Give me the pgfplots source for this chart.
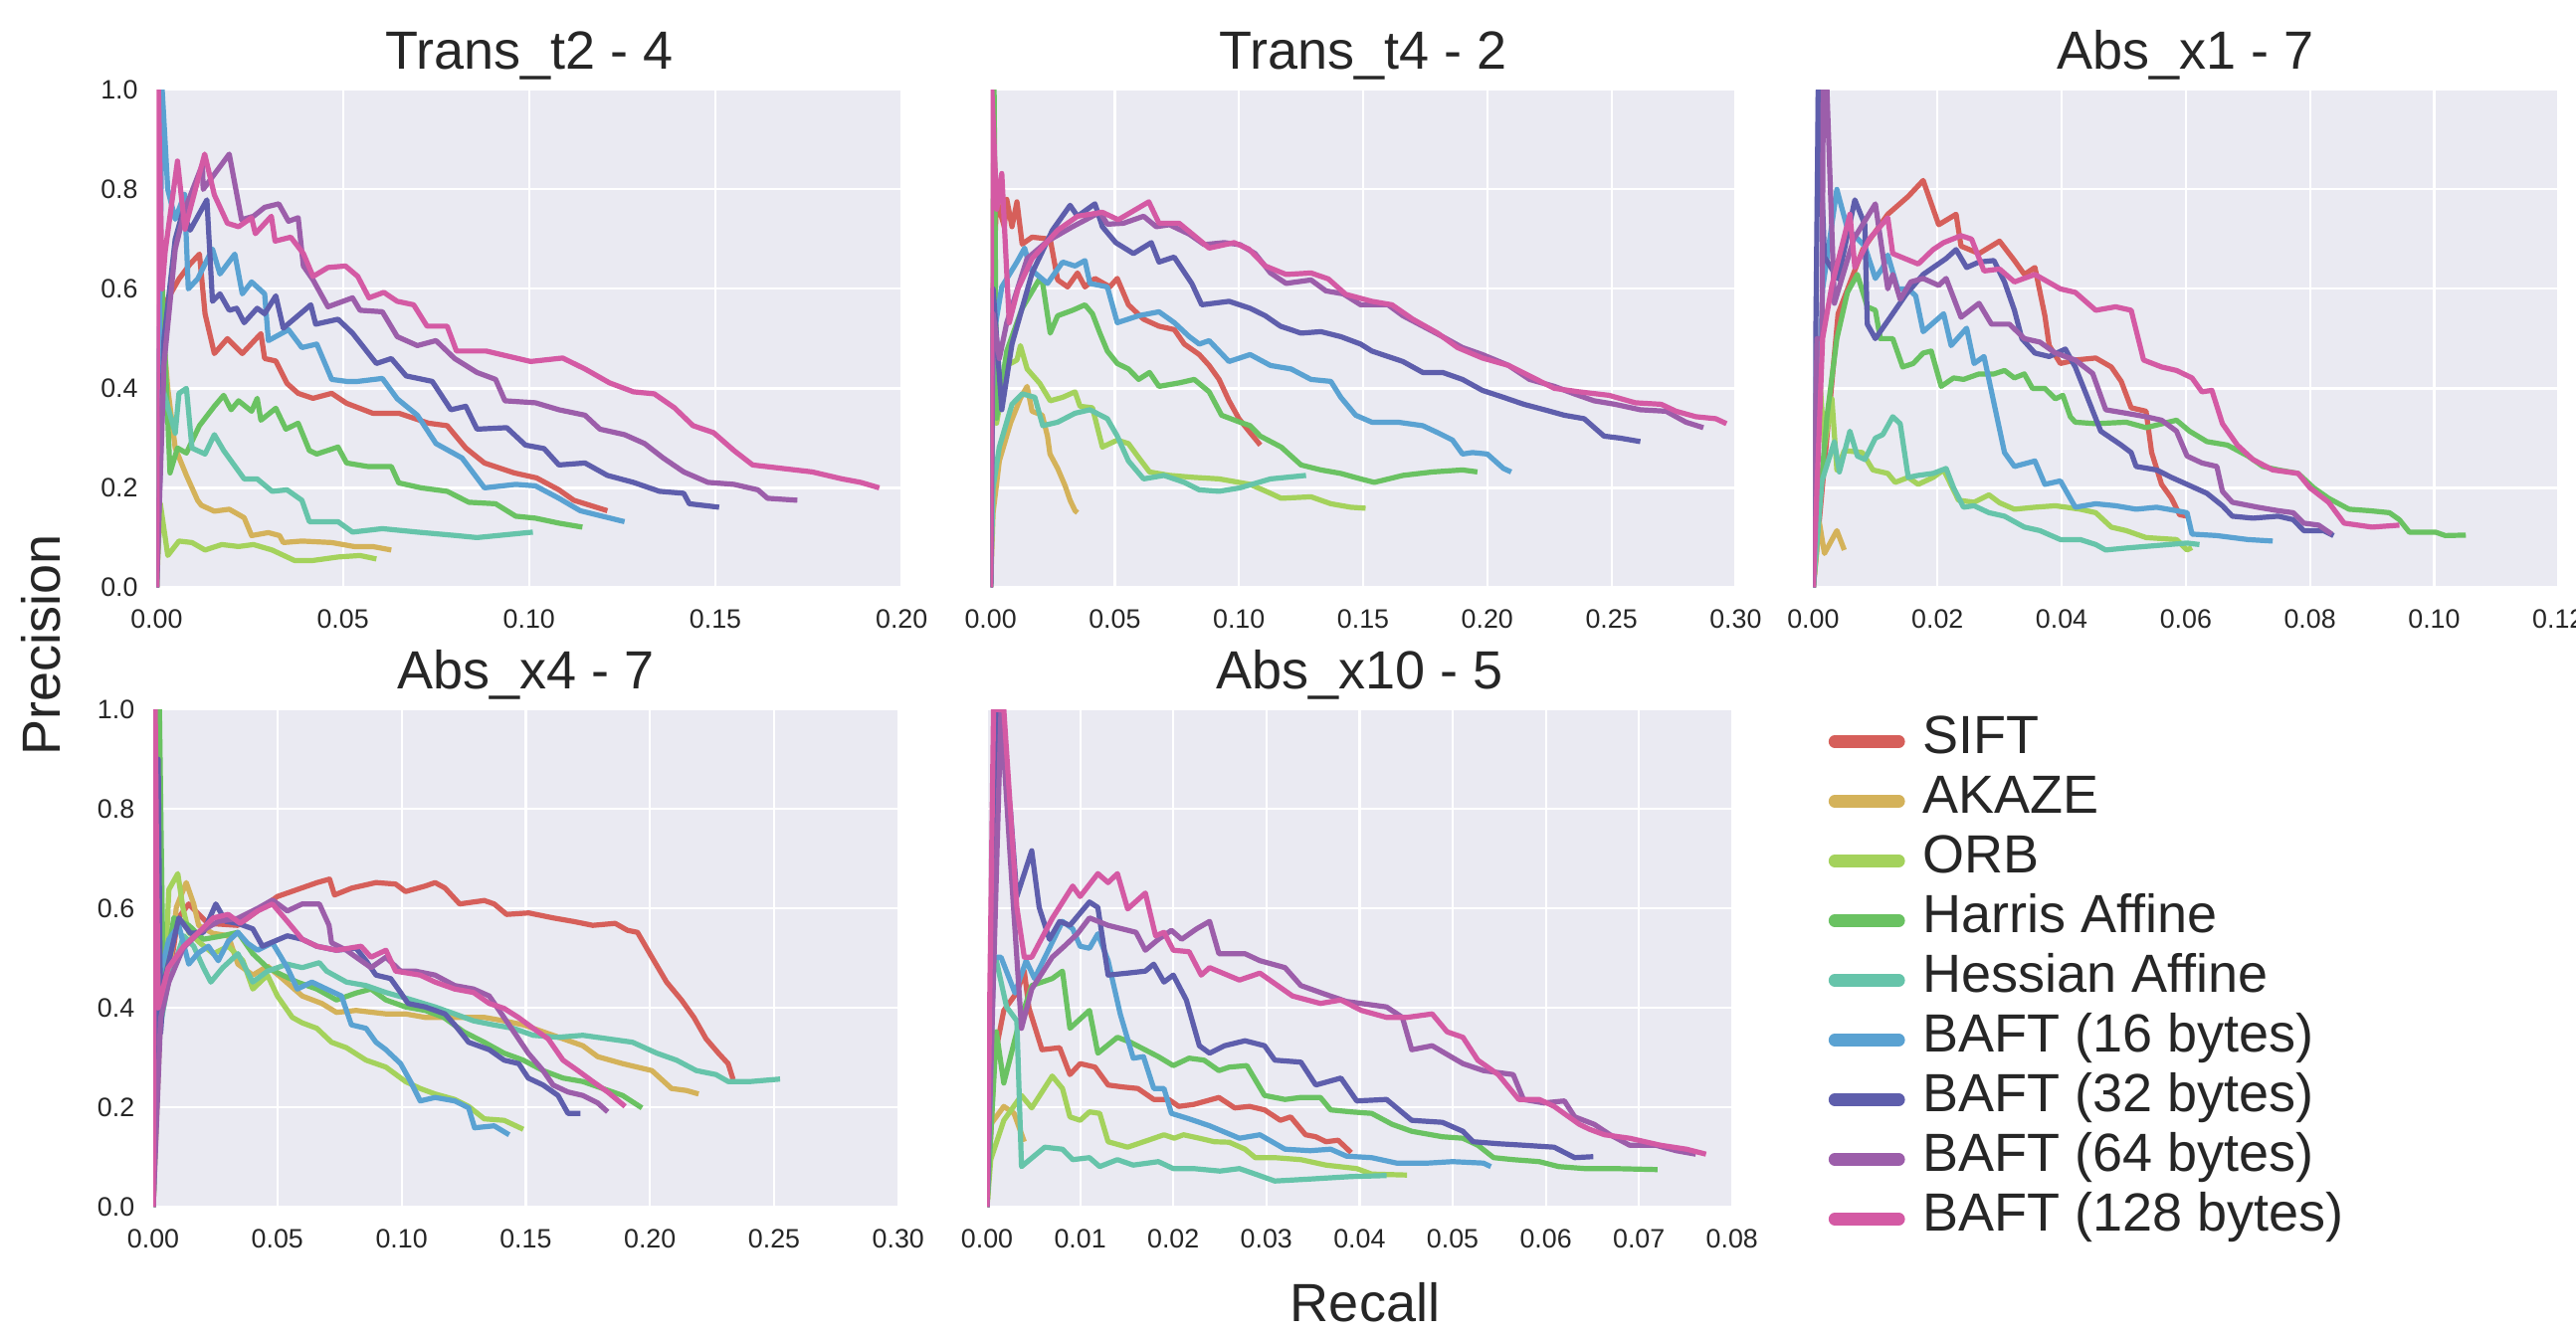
\documentclass[border=0pt]{standalone}
\usepackage{fontspec}
\setmainfont{Liberation Sans}
\usepackage{pgfplots}
\pgfplotsset{compat=1.18}
\definecolor{bgc}{RGB}{234,234,242}
\definecolor{tgray}{RGB}{38,38,38}
\definecolor{cSIFT}{RGB}{214,95,90}
\definecolor{cAKAZE}{RGB}{212,178,90}
\definecolor{cORB}{RGB}{164,210,92}
\definecolor{cHarris}{RGB}{106,194,98}
\definecolor{cHessian}{RGB}{102,196,170}
\definecolor{cBa}{RGB}{90,162,210}
\definecolor{cBb}{RGB}{94,94,172}
\definecolor{cBc}{RGB}{156,94,170}
\definecolor{cBd}{RGB}{212,90,164}
\newcommand{\ticksize}{\fontsize{6.7}{8}\selectfont}
\newcommand{\bigsize}{\fontsize{13.5}{15}\selectfont}
\pgfplotsset{
  pr/.style={
    width=187.2pt, height=125pt, scale only axis, anchor=south west,
    xmin=0, ymin=0, ymax=1,
    axis background/.style={fill=bgc},
    axis line style={draw=none},
    major tick length=0pt,
    grid=major, grid style={white, line width=0.55pt},
    ytick={0,0.2,0.4,0.6,0.8,1.0},
    scaled x ticks=false, scaled y ticks=false,
    tick label style={font=\ticksize, text=tgray, /pgf/number format/assume math mode=true},
    xticklabel style={anchor=north, inner sep=0pt, yshift=-5.5pt, /pgf/number format/.cd, fixed, fixed zerofill, precision=2},
    yticklabel style={anchor=east, inner sep=0pt, xshift=-4.5pt, /pgf/number format/.cd, fixed, fixed zerofill, precision=1},
    title style={font=\bigsize, text=tgray, at={(0.5,1)}, anchor=base, yshift=-0.7pt},
    every axis plot/.append style={line width=1.3pt, line join=round},
  }
}
\begin{document}
\begin{tikzpicture}
\useasboundingbox (0pt,0pt) rectangle (647.25pt,335.5pt);
% ---------------- Plot 1
\begin{axis}[pr, at={(39.35pt,187.9pt)}, xmax=0.2, xtick={0,0.05,0.1,0.15,0.2}, title={Trans\_t2 - 4}]
\addplot[cSIFT] coordinates {(0,0)(0.001,0.45)(0.003,0.58)(0.006,0.62)(0.009,0.65)(0.0115,0.67)(0.013,0.55)(0.0155,0.47)(0.019,0.50)(0.023,0.47)(0.028,0.51)(0.029,0.46)(0.032,0.455)(0.035,0.41)(0.038,0.39)(0.042,0.38)(0.047,0.39)(0.051,0.37)(0.058,0.35)(0.065,0.35)(0.073,0.33)(0.078,0.325)(0.083,0.28)(0.088,0.25)(0.096,0.23)(0.102,0.22)(0.108,0.196)(0.112,0.175)(0.121,0.154)};
\addplot[cAKAZE] coordinates {(0,0)(0.001,0.3)(0.002,0.49)(0.003,0.40)(0.005,0.28)(0.008,0.225)(0.011,0.175)(0.012,0.165)(0.0155,0.153)(0.0195,0.157)(0.0235,0.14)(0.0255,0.104)(0.030,0.11)(0.033,0.104)(0.034,0.09)(0.039,0.093)(0.047,0.09)(0.053,0.082)(0.058,0.082)(0.063,0.075)};
\addplot[cORB] coordinates {(0,0)(0.001,0.168)(0.003,0.064)(0.006,0.093)(0.0095,0.09)(0.013,0.075)(0.0175,0.086)(0.022,0.082)(0.026,0.086)(0.031,0.075)(0.037,0.054)(0.042,0.054)(0.0487,0.061)(0.0546,0.064)(0.059,0.057)};
\addplot[cHarris] coordinates {(0,0)(0.0012,0.66)(0.0036,0.23)(0.0056,0.28)(0.008,0.27)(0.0115,0.325)(0.0155,0.364)(0.018,0.386)(0.020,0.357)(0.022,0.375)(0.0255,0.354)(0.027,0.38)(0.028,0.336)(0.032,0.36)(0.0347,0.318)(0.038,0.33)(0.041,0.275)(0.043,0.268)(0.0487,0.282)(0.051,0.25)(0.0566,0.243)(0.063,0.243)(0.065,0.21)(0.071,0.2)(0.078,0.193)(0.0838,0.171)(0.091,0.168)(0.0964,0.143)(0.1017,0.139)(0.108,0.129)(0.1143,0.121)};
\addplot[cHessian] coordinates {(0,0)(0.001,0.3)(0.002,0.39)(0.005,0.31)(0.006,0.39)(0.008,0.40)(0.0095,0.28)(0.013,0.268)(0.0155,0.307)(0.018,0.275)(0.0235,0.218)(0.027,0.218)(0.031,0.193)(0.035,0.196)(0.039,0.175)(0.041,0.132)(0.0487,0.132)(0.0526,0.111)(0.0606,0.118)(0.07,0.111)(0.0805,0.104)(0.086,0.1)(0.101,0.111)};
\addplot[cBa] coordinates {(0,0)(0.0015,1.0)(0.003,0.8)(0.005,0.74)(0.0075,0.79)(0.0085,0.6)(0.011,0.62)(0.015,0.68)(0.017,0.63)(0.021,0.67)(0.023,0.59)(0.0255,0.614)(0.029,0.59)(0.030,0.496)(0.0354,0.518)(0.039,0.482)(0.043,0.489)(0.047,0.418)(0.051,0.414)(0.054,0.414)(0.0606,0.42)(0.0646,0.379)(0.07,0.346)(0.075,0.289)(0.082,0.26)(0.088,0.2)(0.0964,0.207)(0.1017,0.204)(0.108,0.179)(0.1137,0.154)(0.118,0.146)(0.1256,0.132)};
\addplot[cBb] coordinates {(0,0)(0.002,0.5)(0.005,0.70)(0.007,0.754)(0.009,0.718)(0.0135,0.779)(0.015,0.575)(0.017,0.59)(0.0195,0.557)(0.0215,0.561)(0.0235,0.532)(0.027,0.561)(0.029,0.55)(0.032,0.586)(0.034,0.521)(0.0414,0.568)(0.0427,0.529)(0.0487,0.539)(0.0526,0.511)(0.059,0.45)(0.063,0.46)(0.067,0.425)(0.074,0.414)(0.079,0.357)(0.083,0.364)(0.086,0.318)(0.094,0.321)(0.099,0.286)(0.104,0.279)(0.108,0.246)(0.115,0.25)(0.121,0.225)(0.128,0.211)(0.135,0.193)(0.1415,0.189)(0.143,0.168)(0.151,0.161)};
\addplot[cBc] coordinates {(0,0)(0.002,0.45)(0.005,0.68)(0.0076,0.76)(0.0123,0.85)(0.0125,0.8)(0.0195,0.871)(0.0228,0.739)(0.026,0.746)(0.029,0.764)(0.0328,0.771)(0.0354,0.736)(0.038,0.743)(0.0394,0.646)(0.042,0.618)(0.046,0.564)(0.0526,0.582)(0.0546,0.557)(0.0606,0.554)(0.0646,0.504)(0.07,0.486)(0.075,0.496)(0.080,0.46)(0.086,0.432)(0.091,0.418)(0.0935,0.375)(0.1017,0.371)(0.108,0.357)(0.115,0.346)(0.119,0.318)(0.1256,0.307)(0.131,0.289)(0.136,0.26)(0.1415,0.232)(0.148,0.211)(0.155,0.207)(0.1614,0.196)(0.164,0.179)(0.172,0.175)};
\addplot[cBd] coordinates {(0,0)(0.0005,1.0)(0.0015,0.6)(0.0023,0.675)(0.0056,0.857)(0.0076,0.72)(0.0129,0.871)(0.0155,0.789)(0.019,0.732)(0.022,0.725)(0.0255,0.743)(0.0265,0.711)(0.0308,0.746)(0.0318,0.696)(0.036,0.704)(0.0394,0.671)(0.042,0.625)(0.046,0.643)(0.0507,0.646)(0.054,0.625)(0.057,0.582)(0.061,0.593)(0.0646,0.575)(0.069,0.568)(0.0726,0.525)(0.078,0.525)(0.0805,0.475)(0.0885,0.475)(0.1004,0.454)(0.109,0.461)(0.115,0.439)(0.1216,0.411)(0.128,0.393)(0.1336,0.389)(0.139,0.361)(0.144,0.325)(0.1495,0.311)(0.155,0.275)(0.160,0.246)(0.168,0.239)(0.176,0.232)(0.184,0.218)(0.189,0.211)(0.194,0.2)};
\end{axis}
% ---------------- Plot 2
\begin{axis}[pr, at={(248.9pt,187.9pt)}, xmax=0.3, xtick={0,0.05,0.1,0.15,0.2,0.25,0.3}, yticklabels={}, title={Trans\_t4 - 2}]
\addplot[cSIFT] coordinates {(0,0)(0.001,0.6)(0.0024,0.78)(0.0055,0.725)(0.0065,0.78)(0.0086,0.725)(0.0106,0.775)(0.0127,0.69)(0.0167,0.704)(0.024,0.70)(0.027,0.618)(0.031,0.604)(0.035,0.632)(0.038,0.604)(0.042,0.621)(0.048,0.604)(0.051,0.621)(0.0555,0.568)(0.0616,0.539)(0.0678,0.525)(0.074,0.518)(0.078,0.489)(0.084,0.468)(0.088,0.446)(0.092,0.418)(0.096,0.375)(0.100,0.339)(0.1045,0.311)(0.1086,0.286)};
\addplot[cAKAZE] coordinates {(0,0)(0.001,0.15)(0.0035,0.254)(0.008,0.33)(0.012,0.38)(0.0147,0.404)(0.0167,0.354)(0.0208,0.346)(0.0229,0.304)(0.0239,0.268)(0.027,0.239)(0.030,0.204)(0.032,0.175)(0.034,0.154)(0.035,0.15)};
\addplot[cORB] coordinates {(0,0)(0.001,0.45)(0.0024,0.33)(0.0065,0.446)(0.0106,0.457)(0.012,0.486)(0.0147,0.439)(0.0198,0.41)(0.024,0.375)(0.029,0.382)(0.034,0.393)(0.036,0.364)(0.041,0.361)(0.045,0.282)(0.051,0.296)(0.0555,0.289)(0.0596,0.261)(0.064,0.232)(0.072,0.225)(0.082,0.221)(0.092,0.218)(0.1045,0.207)(0.1127,0.189)(0.117,0.179)(0.129,0.182)(0.137,0.168)(0.145,0.161)(0.151,0.159)};
\addplot[cHarris] coordinates {(0,0)(0.0014,1.0)(0.0024,0.34)(0.0065,0.475)(0.0127,0.561)(0.0198,0.621)(0.021,0.61)(0.024,0.511)(0.027,0.546)(0.033,0.557)(0.038,0.568)(0.041,0.55)(0.044,0.511)(0.047,0.475)(0.051,0.45)(0.0555,0.439)(0.0596,0.418)(0.064,0.432)(0.0678,0.404)(0.0759,0.411)(0.082,0.418)(0.088,0.393)(0.093,0.346)(0.1004,0.332)(0.1045,0.325)(0.1086,0.304)(0.117,0.282)(0.125,0.246)(0.133,0.236)(0.141,0.229)(0.149,0.218)(0.1545,0.211)(0.166,0.225)(0.178,0.232)(0.190,0.236)(0.196,0.232)};
\addplot[cHessian] coordinates {(0,0)(0.001,0.2)(0.0035,0.282)(0.0086,0.368)(0.0127,0.389)(0.0178,0.382)(0.021,0.325)(0.027,0.332)(0.034,0.35)(0.040,0.357)(0.047,0.339)(0.051,0.304)(0.0555,0.254)(0.0616,0.218)(0.0698,0.225)(0.078,0.211)(0.084,0.196)(0.092,0.193)(0.1004,0.2)(0.1127,0.218)(0.127,0.225)};
\addplot[cBa] coordinates {(0,0)(0.001,0.5)(0.0045,0.604)(0.0106,0.654)(0.0137,0.682)(0.016,0.64)(0.0229,0.611)(0.029,0.654)(0.034,0.646)(0.038,0.657)(0.040,0.611)(0.047,0.604)(0.051,0.532)(0.0596,0.546)(0.0678,0.554)(0.074,0.532)(0.080,0.504)(0.084,0.489)(0.088,0.496)(0.096,0.454)(0.1045,0.468)(0.1127,0.446)(0.121,0.439)(0.129,0.418)(0.137,0.414)(0.141,0.382)(0.147,0.346)(0.1535,0.332)(0.164,0.332)(0.174,0.325)(0.18,0.311)(0.186,0.296)(0.19,0.268)(0.194,0.271)(0.2,0.268)(0.2065,0.239)(0.2096,0.232)};
\addplot[cBb] coordinates {(0,0)(0.001,0.6)(0.0045,0.357)(0.0086,0.489)(0.0167,0.632)(0.0249,0.718)(0.032,0.768)(0.035,0.746)(0.042,0.771)(0.045,0.725)(0.0504,0.693)(0.0575,0.671)(0.0647,0.693)(0.0678,0.654)(0.0739,0.664)(0.081,0.611)(0.085,0.568)(0.096,0.575)(0.1045,0.561)(0.1106,0.546)(0.1167,0.525)(0.125,0.511)(0.133,0.514)(0.141,0.504)(0.149,0.489)(0.1535,0.475)(0.166,0.454)(0.174,0.432)(0.182,0.432)(0.19,0.418)(0.198,0.396)(0.2065,0.382)(0.2147,0.368)(0.223,0.357)(0.231,0.346)(0.239,0.339)(0.247,0.304)(0.2535,0.3)(0.2616,0.293)};
\addplot[cBc] coordinates {(0,0)(0.001,0.55)(0.0035,0.46)(0.0065,0.532)(0.0147,0.661)(0.0229,0.696)(0.033,0.725)(0.044,0.754)(0.047,0.73)(0.0535,0.732)(0.0616,0.746)(0.0667,0.725)(0.072,0.729)(0.08,0.71)(0.086,0.689)(0.094,0.693)(0.1004,0.689)(0.1065,0.671)(0.1127,0.632)(0.119,0.611)(0.129,0.618)(0.135,0.596)(0.142,0.59)(0.149,0.568)(0.16,0.568)(0.166,0.546)(0.174,0.525)(0.182,0.504)(0.19,0.482)(0.198,0.468)(0.2086,0.446)(0.217,0.418)(0.227,0.404)(0.235,0.389)(0.243,0.375)(0.2514,0.368)(0.2616,0.357)(0.272,0.354)(0.28,0.332)(0.287,0.321)};
\addplot[cBd] coordinates {(0,0)(0.0005,1.0)(0.0025,0.76)(0.0045,0.832)(0.0075,0.532)(0.011,0.6)(0.0167,0.661)(0.027,0.718)(0.035,0.746)(0.045,0.754)(0.0514,0.739)(0.0637,0.775)(0.0678,0.732)(0.0759,0.732)(0.082,0.707)(0.088,0.682)(0.098,0.693)(0.104,0.68)(0.1106,0.646)(0.119,0.629)(0.129,0.632)(0.136,0.62)(0.143,0.589)(0.1535,0.575)(0.1616,0.568)(0.17,0.539)(0.18,0.511)(0.188,0.482)(0.198,0.461)(0.2086,0.446)(0.217,0.425)(0.227,0.4)(0.237,0.393)(0.249,0.386)(0.2596,0.371)(0.27,0.368)(0.276,0.354)(0.284,0.343)(0.292,0.339)(0.2963,0.329)};
\end{axis}
% ---------------- Plot 3
\begin{axis}[pr, at={(455.6pt,187.9pt)}, xmax=0.12, xtick={0,0.02,0.04,0.06,0.08,0.1,0.12}, yticklabels={}, title={Abs\_x1 - 7}]
\addplot[cSIFT] coordinates {(0,0)(0.004,0.55)(0.008,0.68)(0.012,0.75)(0.0153,0.786)(0.0177,0.818)(0.0202,0.729)(0.023,0.75)(0.0238,0.686)(0.0267,0.671)(0.030,0.696)(0.0324,0.657)(0.034,0.629)(0.0357,0.643)(0.0373,0.546)(0.038,0.486)(0.0398,0.45)(0.0422,0.457)(0.0455,0.461)(0.048,0.443)(0.0496,0.414)(0.0512,0.361)(0.0536,0.354)(0.0545,0.271)(0.0561,0.207)(0.0577,0.179)(0.059,0.146)(0.0602,0.143)};
\addplot[cAKAZE] coordinates {(0,0)(0.001,0.129)(0.0018,0.068)(0.0038,0.114)(0.005,0.075)};
\addplot[cORB] coordinates {(0,0)(0.0006,0.5)(0.0018,0.282)(0.003,0.379)(0.0038,0.236)(0.005,0.275)(0.0079,0.271)(0.0096,0.236)(0.012,0.229)(0.0132,0.211)(0.0153,0.221)(0.0169,0.207)(0.0193,0.221)(0.021,0.236)(0.0234,0.175)(0.0259,0.171)(0.0283,0.186)(0.030,0.17)(0.0324,0.157)(0.0357,0.161)(0.039,0.164)(0.043,0.157)(0.0455,0.15)(0.048,0.121)(0.0504,0.114)(0.0536,0.1)(0.0585,0.096)(0.0602,0.075)(0.061,0.08)};
\addplot[cHarris] coordinates {(0,0)(0.001,0.164)(0.0022,0.343)(0.0038,0.5)(0.0055,0.593)(0.0071,0.629)(0.0087,0.564)(0.01,0.557)(0.0108,0.5)(0.0128,0.5)(0.0144,0.443)(0.0161,0.45)(0.0177,0.471)(0.019,0.475)(0.0206,0.404)(0.0226,0.421)(0.0242,0.418)(0.0267,0.429)(0.0291,0.429)(0.0308,0.436)(0.0324,0.421)(0.034,0.429)(0.0353,0.4)(0.0373,0.4)(0.039,0.379)(0.0402,0.386)(0.0414,0.343)(0.0422,0.332)(0.0455,0.329)(0.0504,0.332)(0.0536,0.321)(0.0585,0.336)(0.0606,0.314)(0.0634,0.293)(0.0667,0.286)(0.07,0.264)(0.0724,0.243)(0.0749,0.236)(0.0781,0.229)(0.0806,0.2)(0.083,0.179)(0.0863,0.157)(0.0896,0.154)(0.0928,0.15)(0.0944,0.136)(0.096,0.111)(0.1002,0.111)(0.1018,0.104)(0.1051,0.105)};
\addplot[cHessian] coordinates {(0,0)(0.0014,0.214)(0.0034,0.293)(0.0042,0.232)(0.0059,0.314)(0.0071,0.264)(0.0083,0.257)(0.01,0.3)(0.0112,0.307)(0.0128,0.343)(0.014,0.329)(0.0153,0.221)(0.0169,0.225)(0.0193,0.229)(0.0214,0.239)(0.0226,0.2)(0.0242,0.161)(0.0259,0.164)(0.0283,0.15)(0.0308,0.143)(0.034,0.121)(0.0365,0.114)(0.0398,0.096)(0.043,0.096)(0.0455,0.086)(0.0471,0.075)(0.0504,0.079)(0.0553,0.084)(0.0602,0.089)(0.0622,0.086)};
\addplot[cBa] coordinates {(0,0)(0.0015,0.6)(0.0038,0.8)(0.0055,0.721)(0.0083,0.686)(0.01,0.621)(0.0112,0.643)(0.012,0.668)(0.0136,0.6)(0.0153,0.6)(0.0165,0.586)(0.0177,0.514)(0.021,0.55)(0.0222,0.486)(0.0247,0.521)(0.0259,0.45)(0.0275,0.464)(0.0308,0.271)(0.0324,0.243)(0.0357,0.254)(0.0373,0.207)(0.0398,0.214)(0.0422,0.161)(0.0455,0.168)(0.0487,0.164)(0.052,0.157)(0.0553,0.161)(0.0585,0.154)(0.0602,0.15)(0.061,0.107)(0.065,0.104)(0.07,0.096)(0.074,0.093)};
\addplot[cBb] coordinates {(0,0)(0.0008,1.0)(0.0018,0.664)(0.004,0.62)(0.0067,0.779)(0.0083,0.729)(0.0087,0.529)(0.01,0.5)(0.0124,0.543)(0.015,0.59)(0.0177,0.629)(0.0214,0.661)(0.023,0.679)(0.0247,0.643)(0.0267,0.654)(0.0291,0.657)(0.0308,0.614)(0.0324,0.557)(0.0336,0.5)(0.0357,0.471)(0.038,0.464)(0.0406,0.479)(0.0422,0.443)(0.0438,0.393)(0.0463,0.314)(0.0496,0.286)(0.0512,0.271)(0.052,0.243)(0.0553,0.236)(0.0577,0.221)(0.0602,0.207)(0.0634,0.189)(0.0659,0.164)(0.0675,0.143)(0.0708,0.139)(0.0749,0.143)(0.0773,0.136)(0.079,0.114)(0.0822,0.114)(0.0838,0.104)};
\addplot[cBc] coordinates {(0,0)(0.0006,0.5)(0.0014,0.5)(0.0016,1.0)(0.0022,1.0)(0.0034,0.571)(0.0065,0.7)(0.01,0.771)(0.012,0.6)(0.0128,0.629)(0.014,0.579)(0.0157,0.614)(0.0177,0.621)(0.0202,0.607)(0.0214,0.621)(0.0238,0.543)(0.0267,0.571)(0.0287,0.529)(0.0316,0.529)(0.034,0.5)(0.0365,0.493)(0.039,0.471)(0.0422,0.457)(0.045,0.43)(0.0471,0.357)(0.0504,0.35)(0.0536,0.343)(0.0561,0.336)(0.0585,0.314)(0.0602,0.264)(0.0626,0.25)(0.065,0.243)(0.0659,0.193)(0.0675,0.171)(0.0716,0.161)(0.0749,0.154)(0.0773,0.15)(0.079,0.129)(0.0814,0.125)(0.0835,0.107)};
\addplot[cBd] coordinates {(0,0)(0.0015,0.5)(0.003,0.607)(0.0059,0.75)(0.0067,0.643)(0.009,0.7)(0.012,0.743)(0.0128,0.671)(0.0169,0.65)(0.0193,0.679)(0.021,0.693)(0.0238,0.707)(0.0255,0.7)(0.0275,0.636)(0.030,0.64)(0.0324,0.614)(0.0357,0.629)(0.0398,0.6)(0.0422,0.593)(0.0455,0.557)(0.0487,0.564)(0.0512,0.557)(0.0532,0.457)(0.0561,0.443)(0.0585,0.436)(0.061,0.421)(0.0626,0.393)(0.0642,0.396)(0.0659,0.329)(0.0683,0.286)(0.0708,0.257)(0.074,0.236)(0.0781,0.229)(0.080,0.2)(0.083,0.171)(0.0855,0.129)(0.09,0.121)(0.0944,0.125)};
\end{axis}
% ---------------- Plot 4
\begin{axis}[pr, at={(38.5pt,32.2pt)}, xmax=0.3, xtick={0,0.05,0.1,0.15,0.2,0.25,0.3}, title={Abs\_x4 - 7}]
\addplot[cSIFT] coordinates {(0,0)(0.002,0.35)(0.006,0.45)(0.010,0.58)(0.0143,0.609)(0.017,0.595)(0.022,0.57)(0.034,0.566)(0.042,0.595)(0.05,0.624)(0.058,0.638)(0.066,0.652)(0.071,0.659)(0.073,0.627)(0.08,0.641)(0.0897,0.652)(0.0976,0.649)(0.1016,0.634)(0.1095,0.645)(0.1135,0.652)(0.1175,0.641)(0.1234,0.609)(0.1333,0.616)(0.1373,0.609)(0.1423,0.588)(0.1512,0.591)(0.161,0.581)(0.169,0.574)(0.177,0.566)(0.186,0.57)(0.191,0.556)(0.195,0.552)(0.2008,0.502)(0.2067,0.452)(0.2127,0.416)(0.2177,0.381)(0.2226,0.338)(0.2276,0.309)(0.2315,0.288)(0.2335,0.256)};
\addplot[cAKAZE] coordinates {(0,0)(0.003,0.4)(0.0063,0.459)(0.0093,0.602)(0.0133,0.652)(0.0163,0.609)(0.0183,0.566)(0.024,0.55)(0.0302,0.545)(0.0341,0.488)(0.0401,0.466)(0.046,0.484)(0.052,0.459)(0.06,0.424)(0.0679,0.409)(0.0738,0.391)(0.0817,0.395)(0.0937,0.388)(0.1016,0.388)(0.1095,0.381)(0.1214,0.381)(0.1333,0.381)(0.1413,0.374)(0.149,0.366)(0.157,0.352)(0.165,0.338)(0.173,0.324)(0.179,0.302)(0.189,0.288)(0.2008,0.274)(0.2087,0.238)(0.2147,0.234)(0.2196,0.227)};
\addplot[cORB] coordinates {(0,0)(0.002,0.35)(0.0044,0.424)(0.0063,0.638)(0.0099,0.67)(0.012,0.6)(0.0143,0.552)(0.019,0.53)(0.0242,0.509)(0.0302,0.524)(0.0361,0.495)(0.0401,0.438)(0.046,0.466)(0.05,0.424)(0.056,0.381)(0.06,0.37)(0.0659,0.359)(0.0718,0.331)(0.0778,0.32)(0.0857,0.295)(0.0937,0.281)(0.1016,0.252)(0.1075,0.238)(0.1135,0.227)(0.1214,0.216)(0.127,0.202)(0.1333,0.177)(0.1413,0.174)(0.149,0.156)};
\addplot[cHarris] coordinates {(0,0)(0.0025,1.0)(0.004,0.45)(0.0083,0.581)(0.0143,0.566)(0.0202,0.538)(0.028,0.545)(0.0341,0.552)(0.0401,0.509)(0.046,0.481)(0.052,0.466)(0.058,0.452)(0.0659,0.438)(0.0738,0.416)(0.0817,0.43)(0.0877,0.438)(0.0937,0.416)(0.1016,0.402)(0.1095,0.395)(0.117,0.381)(0.125,0.352)(0.1333,0.331)(0.1413,0.309)(0.149,0.295)(0.157,0.274)(0.165,0.259)(0.173,0.252)(0.181,0.238)(0.189,0.224)(0.1968,0.199)};
\addplot[cHessian] coordinates {(0,0)(0.0024,0.352)(0.006,0.45)(0.0123,0.545)(0.0163,0.524)(0.0202,0.481)(0.0232,0.452)(0.028,0.481)(0.0341,0.509)(0.0401,0.452)(0.046,0.474)(0.054,0.488)(0.06,0.481)(0.0669,0.491)(0.0698,0.474)(0.0778,0.452)(0.0857,0.445)(0.0937,0.431)(0.1016,0.42)(0.1135,0.402)(0.1214,0.388)(0.129,0.374)(0.137,0.366)(0.145,0.359)(0.153,0.345)(0.163,0.341)(0.173,0.345)(0.183,0.338)(0.193,0.331)(0.2028,0.309)(0.2107,0.295)(0.2187,0.274)(0.2266,0.266)(0.2315,0.252)(0.2405,0.252)(0.2524,0.257)};
\addplot[cBa] coordinates {(0,0)(0.0024,0.459)(0.0063,0.538)(0.0103,0.566)(0.0143,0.488)(0.018,0.51)(0.0222,0.524)(0.0262,0.495)(0.0302,0.534)(0.0341,0.552)(0.038,0.53)(0.042,0.516)(0.048,0.531)(0.054,0.481)(0.058,0.438)(0.0639,0.452)(0.0698,0.438)(0.0758,0.424)(0.0798,0.366)(0.0857,0.359)(0.0897,0.331)(0.0937,0.316)(0.0996,0.288)(0.1036,0.252)(0.1075,0.213)(0.1135,0.22)(0.1214,0.213)(0.127,0.199)(0.1294,0.159)(0.1373,0.163)(0.1433,0.145)};
\addplot[cBb] coordinates {(0,0)(0.002,0.9)(0.003,0.35)(0.0044,0.452)(0.0103,0.581)(0.015,0.55)(0.0202,0.552)(0.0252,0.609)(0.0292,0.574)(0.034,0.57)(0.0401,0.559)(0.044,0.524)(0.054,0.545)(0.06,0.538)(0.0659,0.524)(0.0738,0.516)(0.0817,0.52)(0.0857,0.495)(0.0897,0.466)(0.0956,0.459)(0.0996,0.431)(0.1026,0.409)(0.1095,0.402)(0.1175,0.388)(0.1214,0.366)(0.127,0.331)(0.1353,0.316)(0.1413,0.295)(0.1472,0.288)(0.151,0.259)(0.157,0.245)(0.163,0.224)(0.167,0.188)(0.172,0.188)};
\addplot[cBc] coordinates {(0,0)(0.003,0.38)(0.0063,0.452)(0.012,0.52)(0.018,0.55)(0.0262,0.574)(0.034,0.58)(0.042,0.6)(0.048,0.617)(0.054,0.595)(0.06,0.609)(0.0669,0.609)(0.0708,0.566)(0.0718,0.531)(0.0778,0.516)(0.0817,0.502)(0.0877,0.481)(0.0937,0.502)(0.0996,0.474)(0.1056,0.474)(0.1135,0.466)(0.1214,0.445)(0.129,0.438)(0.1353,0.424)(0.1393,0.395)(0.1452,0.352)(0.151,0.309)(0.157,0.274)(0.161,0.245)(0.167,0.231)(0.173,0.224)(0.179,0.209)(0.183,0.191)};
\addplot[cBd] coordinates {(0,0)(0.0008,1.0)(0.002,0.4)(0.006,0.48)(0.0123,0.524)(0.0183,0.552)(0.0242,0.581)(0.0302,0.588)(0.035,0.57)(0.042,0.595)(0.048,0.609)(0.054,0.574)(0.06,0.538)(0.0659,0.524)(0.0738,0.516)(0.0837,0.524)(0.0877,0.502)(0.0937,0.516)(0.0976,0.474)(0.1075,0.466)(0.1135,0.452)(0.1214,0.438)(0.129,0.431)(0.1353,0.409)(0.1413,0.399)(0.147,0.381)(0.153,0.359)(0.159,0.338)(0.165,0.295)(0.171,0.274)(0.177,0.252)(0.183,0.231)(0.19,0.202)};
\end{axis}
% ---------------- Plot 5
\begin{axis}[pr, at={(248pt,32.2pt)}, xmax=0.08, xtick={0,0.01,0.02,0.03,0.04,0.05,0.06,0.07,0.08}, yticklabels={}, title={Abs\_x10 - 5},
  legend cell align=left,
  legend style={at={(1.1285,1.0132)}, anchor=north west, draw=none, fill=none, inner sep=0pt, font=\bigsize, text=tgray, row sep=-1pt},
  legend image code/.code={\draw[#1, line width=3.1pt, line cap=round] (0pt,-1.5pt) -- (16.1pt,-1.5pt); \path (19.4pt,-1.5pt);}]
\addplot[cSIFT] coordinates {(0,0)(0.0008,0.3)(0.0018,0.395)(0.0032,0.431)(0.004,0.474)(0.0045,0.4)(0.0059,0.316)(0.0078,0.32)(0.0089,0.266)(0.01,0.288)(0.0116,0.281)(0.013,0.245)(0.0146,0.241)(0.0162,0.238)(0.0179,0.216)(0.0195,0.216)(0.0206,0.202)(0.0222,0.206)(0.0249,0.22)(0.0266,0.199)(0.0282,0.202)(0.0298,0.195)(0.0315,0.174)(0.0326,0.181)(0.0342,0.145)(0.0353,0.141)(0.0364,0.131)(0.0377,0.134)(0.0391,0.109)};
\addlegendentry{\strut SIFT}
\addplot[cAKAZE] coordinates {(0,0)(0.0004,0.166)(0.0018,0.202)(0.0029,0.188)(0.004,0.131)};
\addlegendentry{\strut AKAZE}
\addplot[cORB] coordinates {(0,0)(0.0004,0.095)(0.0018,0.174)(0.0037,0.224)(0.0048,0.199)(0.007,0.263)(0.0081,0.238)(0.0089,0.181)(0.01,0.174)(0.011,0.191)(0.0121,0.188)(0.013,0.131)(0.0151,0.12)(0.0173,0.134)(0.019,0.145)(0.0201,0.138)(0.0211,0.145)(0.0228,0.138)(0.0244,0.131)(0.026,0.13)(0.0277,0.116)(0.0288,0.099)(0.0309,0.099)(0.0337,0.095)(0.0364,0.084)(0.0397,0.077)(0.0413,0.066)(0.0451,0.064)};
\addlegendentry{\strut ORB}
\addplot[cHarris] coordinates {(0,0)(0.001,0.352)(0.0018,0.249)(0.0032,0.352)(0.0048,0.445)(0.007,0.459)(0.0081,0.474)(0.0089,0.359)(0.011,0.395)(0.0119,0.309)(0.014,0.341)(0.0154,0.331)(0.0184,0.302)(0.02,0.284)(0.0217,0.299)(0.0233,0.295)(0.0249,0.274)(0.026,0.281)(0.0279,0.284)(0.0298,0.224)(0.032,0.216)(0.0337,0.22)(0.0358,0.22)(0.0369,0.195)(0.0391,0.191)(0.0413,0.188)(0.0435,0.166)(0.0456,0.152)(0.0489,0.141)(0.0511,0.138)(0.0527,0.124)(0.0544,0.099)(0.0565,0.095)(0.0593,0.091)(0.0614,0.081)(0.0642,0.077)(0.0674,0.077)(0.072,0.075)};
\addlegendentry{\strut Harris Affine}
\addplot[cHessian] coordinates {(0,0)(0.0007,0.502)(0.001,0.495)(0.0021,0.402)(0.0032,0.374)(0.0037,0.081)(0.0062,0.12)(0.0081,0.116)(0.0092,0.095)(0.011,0.099)(0.0121,0.081)(0.014,0.095)(0.0157,0.084)(0.0184,0.091)(0.02,0.077)(0.0222,0.077)(0.025,0.072)(0.0271,0.077)(0.0288,0.066)(0.0309,0.052)(0.0347,0.056)(0.0391,0.061)(0.0429,0.063)};
\addlegendentry{\strut Hessian Affine}
\addplot[cBa] coordinates {(0,0)(0.0007,0.502)(0.0015,0.502)(0.003,0.43)(0.0042,0.495)(0.0051,0.459)(0.0081,0.574)(0.0092,0.559)(0.01,0.524)(0.011,0.52)(0.0119,0.549)(0.013,0.495)(0.0143,0.388)(0.0157,0.299)(0.0168,0.302)(0.0179,0.238)(0.019,0.238)(0.0198,0.188)(0.0217,0.177)(0.0239,0.163)(0.0271,0.138)(0.0293,0.145)(0.032,0.116)(0.0347,0.113)(0.0369,0.116)(0.0386,0.102)(0.0413,0.099)(0.044,0.088)(0.0473,0.088)(0.05,0.091)(0.0533,0.088)(0.0541,0.081)};
\addlegendentry{\strut BAFT (16 bytes)}
\addplot[cBb] coordinates {(0,0)(0.0012,1.0)(0.0025,0.8)(0.0032,0.624)(0.0048,0.716)(0.0056,0.602)(0.0067,0.538)(0.0078,0.574)(0.0089,0.566)(0.011,0.613)(0.0119,0.602)(0.013,0.466)(0.0151,0.47)(0.017,0.474)(0.0179,0.488)(0.019,0.452)(0.02,0.466)(0.0214,0.416)(0.0228,0.324)(0.0239,0.309)(0.0255,0.324)(0.0277,0.334)(0.0298,0.324)(0.0309,0.295)(0.0337,0.291)(0.0353,0.245)(0.038,0.259)(0.0397,0.213)(0.0429,0.216)(0.0456,0.174)(0.0489,0.17)(0.0511,0.152)(0.0522,0.131)(0.0549,0.127)(0.0576,0.124)(0.0609,0.12)(0.0631,0.099)(0.0651,0.101)};
\addlegendentry{\strut BAFT (32 bytes)}
\addplot[cBc] coordinates {(0,0)(0.0015,1.0)(0.0025,0.7)(0.0037,0.359)(0.0048,0.438)(0.007,0.502)(0.0083,0.524)(0.0097,0.549)(0.011,0.581)(0.013,0.566)(0.016,0.552)(0.017,0.516)(0.0184,0.538)(0.0198,0.556)(0.0209,0.538)(0.0225,0.559)(0.0239,0.574)(0.0249,0.509)(0.0277,0.509)(0.0293,0.495)(0.032,0.481)(0.0337,0.445)(0.0364,0.427)(0.0386,0.413)(0.0429,0.402)(0.0446,0.381)(0.0456,0.316)(0.0478,0.324)(0.0511,0.288)(0.0533,0.274)(0.0565,0.266)(0.0576,0.216)(0.0598,0.209)(0.062,0.213)(0.0631,0.181)(0.0652,0.166)(0.0669,0.145)(0.069,0.124)(0.0718,0.124)(0.074,0.113)(0.0761,0.106)};
\addlegendentry{\strut BAFT (64 bytes)}
\addplot[cBd] coordinates {(0,0)(0.0007,1.0)(0.0018,1.0)(0.0032,0.602)(0.004,0.502)(0.0048,0.502)(0.007,0.58)(0.0092,0.645)(0.01,0.624)(0.0119,0.67)(0.013,0.652)(0.014,0.67)(0.0151,0.599)(0.017,0.631)(0.0181,0.545)(0.019,0.552)(0.02,0.516)(0.0217,0.513)(0.023,0.466)(0.0239,0.481)(0.0271,0.456)(0.0293,0.47)(0.0328,0.424)(0.0358,0.409)(0.038,0.416)(0.0402,0.395)(0.0429,0.381)(0.0451,0.381)(0.0478,0.388)(0.0494,0.352)(0.0511,0.341)(0.0527,0.295)(0.0549,0.266)(0.0571,0.216)(0.0593,0.216)(0.0609,0.202)(0.0636,0.166)(0.0647,0.156)(0.0663,0.145)(0.069,0.138)(0.0723,0.124)(0.0751,0.116)(0.0772,0.106)};
\addlegendentry{\strut BAFT (128 bytes)}
\end{axis}
\node[font=\bigsize, text=tgray, rotate=90] at (10.3pt,173.3pt) {Precision};
\node[font=\bigsize, text=tgray, anchor=base] at (343pt,3.5pt) {Recall};
\end{tikzpicture}
\end{document}
